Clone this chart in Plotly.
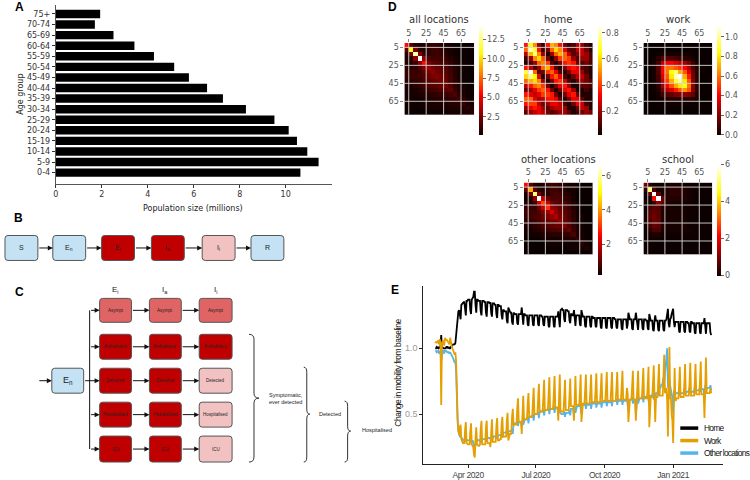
import plotly.graph_objects as go
import pandas as pd

W, H = 750, 480
def px(x): return x / W
def py(y): return 1 - y / H

# ---------------- Panel A data ----------------
AGE_GROUPS = ['0-4', '5-9', '10-14', '15-19', '20-24', '25-29', '30-34', '35-39',
              '40-44', '45-49', '50-54', '55-59', '60-64', '65-69', '70-74', '75+']
POP_MILLIONS = [10.64, 11.43, 10.94, 10.49, 10.13, 9.51, 8.27, 7.27,
                6.58, 5.79, 5.15, 4.27, 3.42, 2.51, 1.70, 1.93]
POP_TICKS = [0, 2, 4, 6, 8, 10]

# ---------------- Panel D data (contact matrices) ----------------
AGE_LOWER = [0, 5, 10, 15, 20, 25, 30, 35, 40, 45, 50, 55, 60, 65, 70, 75]
MATRIX_TICKS = [5, 25, 45, 65]

ALL_LOC = [
 [5.5, 2.0, 0.9, 0.6, 0.7, 1.0, 1.2, 1.1, 0.8, 0.5, 0.4, 0.3, 0.2, 0.2, 0.1, 0.1],
 [2.0, 11.0, 2.4, 0.8, 0.6, 0.9, 1.2, 1.2, 1.0, 0.6, 0.4, 0.3, 0.2, 0.2, 0.1, 0.1],
 [0.8, 2.5, 13.2, 2.8, 1.0, 0.9, 1.1, 1.3, 1.1, 0.8, 0.5, 0.3, 0.2, 0.2, 0.1, 0.1],
 [0.5, 0.9, 3.0, 14.4, 3.0, 1.5, 1.3, 1.3, 1.3, 1.0, 0.7, 0.4, 0.3, 0.2, 0.1, 0.1],
 [0.5, 0.6, 1.2, 3.0, 5.5, 2.6, 1.9, 1.7, 1.6, 1.4, 1.0, 0.6, 0.4, 0.3, 0.2, 0.1],
 [0.9, 0.8, 1.0, 1.6, 2.6, 3.2, 2.4, 2.1, 1.9, 1.6, 1.2, 0.7, 0.4, 0.3, 0.2, 0.1],
 [1.1, 1.1, 1.1, 1.3, 1.9, 2.4, 2.9, 2.4, 2.1, 1.8, 1.3, 0.8, 0.5, 0.3, 0.2, 0.1],
 [1.0, 1.2, 1.2, 1.2, 1.6, 2.1, 2.4, 2.7, 2.3, 1.9, 1.4, 0.8, 0.5, 0.3, 0.2, 0.1],
 [0.7, 0.9, 1.1, 1.2, 1.5, 1.8, 2.1, 2.3, 2.5, 2.1, 1.5, 0.9, 0.5, 0.3, 0.2, 0.1],
 [0.5, 0.6, 0.8, 1.0, 1.3, 1.6, 1.8, 1.9, 2.1, 2.3, 1.7, 1.0, 0.6, 0.4, 0.2, 0.1],
 [0.4, 0.4, 0.5, 0.7, 1.0, 1.2, 1.4, 1.5, 1.6, 1.8, 2.0, 1.2, 0.7, 0.4, 0.3, 0.2],
 [0.4, 0.4, 0.4, 0.5, 0.7, 0.8, 0.9, 1.0, 1.1, 1.2, 1.3, 1.6, 0.9, 0.5, 0.3, 0.2],
 [0.4, 0.4, 0.3, 0.4, 0.5, 0.6, 0.7, 0.7, 0.8, 0.9, 1.0, 1.0, 1.3, 0.7, 0.4, 0.3],
 [0.3, 0.3, 0.3, 0.3, 0.4, 0.5, 0.5, 0.5, 0.6, 0.6, 0.7, 0.7, 0.8, 1.1, 0.6, 0.4],
 [0.3, 0.3, 0.2, 0.2, 0.3, 0.4, 0.4, 0.4, 0.4, 0.5, 0.5, 0.5, 0.6, 0.6, 0.9, 0.5],
 [0.2, 0.2, 0.2, 0.2, 0.2, 0.3, 0.3, 0.3, 0.3, 0.3, 0.4, 0.4, 0.4, 0.5, 0.5, 0.8]]

HOME_LOC = [
 [0.35, 0.65, 0.50, 0.20, 0.08, 0.35, 0.55, 0.50, 0.35, 0.15, 0.08, 0.12, 0.25, 0.20, 0.10, 0.05],
 [0.45, 0.80, 0.70, 0.35, 0.08, 0.15, 0.45, 0.60, 0.50, 0.30, 0.12, 0.12, 0.25, 0.25, 0.15, 0.05],
 [0.25, 0.55, 0.75, 0.50, 0.20, 0.05, 0.20, 0.45, 0.55, 0.45, 0.25, 0.12, 0.18, 0.25, 0.20, 0.10],
 [0.10, 0.20, 0.50, 0.60, 0.45, 0.15, 0.05, 0.20, 0.40, 0.45, 0.40, 0.20, 0.12, 0.20, 0.20, 0.10],
 [0.05, 0.10, 0.20, 0.45, 0.50, 0.40, 0.12, 0.05, 0.15, 0.35, 0.40, 0.35, 0.15, 0.12, 0.15, 0.10],
 [0.35, 0.25, 0.10, 0.20, 0.45, 0.55, 0.35, 0.12, 0.05, 0.15, 0.30, 0.35, 0.30, 0.12, 0.10, 0.05],
 [0.70, 0.86, 0.45, 0.10, 0.15, 0.40, 0.45, 0.30, 0.10, 0.05, 0.15, 0.30, 0.30, 0.20, 0.10, 0.05],
 [0.60, 0.75, 0.65, 0.30, 0.05, 0.15, 0.35, 0.45, 0.30, 0.10, 0.05, 0.15, 0.25, 0.25, 0.15, 0.05],
 [0.45, 0.55, 0.60, 0.50, 0.20, 0.05, 0.15, 0.35, 0.40, 0.25, 0.10, 0.05, 0.15, 0.20, 0.15, 0.10],
 [0.25, 0.35, 0.45, 0.50, 0.40, 0.15, 0.05, 0.15, 0.30, 0.35, 0.20, 0.05, 0.05, 0.12, 0.12, 0.10],
 [0.15, 0.20, 0.30, 0.40, 0.45, 0.35, 0.15, 0.05, 0.15, 0.30, 0.35, 0.20, 0.05, 0.05, 0.10, 0.05],
 [0.35, 0.30, 0.25, 0.30, 0.40, 0.40, 0.35, 0.15, 0.05, 0.15, 0.30, 0.35, 0.15, 0.05, 0.05, 0.05],
 [0.45, 0.45, 0.30, 0.20, 0.25, 0.35, 0.35, 0.30, 0.12, 0.05, 0.15, 0.30, 0.30, 0.12, 0.05, 0.05],
 [0.35, 0.40, 0.40, 0.25, 0.15, 0.20, 0.30, 0.30, 0.25, 0.10, 0.05, 0.15, 0.30, 0.25, 0.10, 0.05],
 [0.20, 0.30, 0.35, 0.30, 0.20, 0.12, 0.20, 0.25, 0.25, 0.20, 0.05, 0.05, 0.15, 0.25, 0.20, 0.05],
 [0.12, 0.20, 0.25, 0.30, 0.25, 0.15, 0.12, 0.15, 0.20, 0.20, 0.12, 0.05, 0.10, 0.15, 0.20, 0.15]]

WORK_LOC = [
 [0, 0, 0, 0, 0, 0, 0, 0, 0, 0, 0, 0, 0, 0, 0, 0],
 [0, 0, 0, 0, 0, 0, 0, 0, 0, 0, 0, 0, 0, 0, 0, 0],
 [0, 0, 0, 0.01, 0.02, 0.02, 0.02, 0.02, 0.02, 0.01, 0.01, 0, 0, 0, 0, 0],
 [0, 0, 0.01, 0.05, 0.10, 0.12, 0.12, 0.10, 0.08, 0.06, 0.04, 0.02, 0.01, 0, 0, 0],
 [0, 0, 0.02, 0.10, 0.30, 0.40, 0.40, 0.35, 0.30, 0.25, 0.18, 0.08, 0.02, 0, 0, 0],
 [0, 0, 0.02, 0.12, 0.40, 0.60, 0.60, 0.55, 0.50, 0.40, 0.28, 0.12, 0.04, 0, 0, 0],
 [0, 0, 0.02, 0.12, 0.40, 0.60, 0.85, 0.95, 0.70, 0.55, 0.35, 0.15, 0.05, 0, 0, 0],
 [0, 0, 0.02, 0.10, 0.35, 0.55, 0.80, 1.05, 1.12, 0.70, 0.45, 0.18, 0.05, 0, 0, 0],
 [0, 0, 0.02, 0.08, 0.30, 0.50, 0.70, 0.90, 1.00, 0.80, 0.55, 0.20, 0.05, 0, 0, 0],
 [0, 0, 0.01, 0.06, 0.25, 0.40, 0.55, 0.70, 0.80, 0.85, 0.60, 0.22, 0.05, 0, 0, 0],
 [0, 0, 0.01, 0.04, 0.18, 0.28, 0.35, 0.45, 0.55, 0.65, 0.55, 0.20, 0.05, 0, 0, 0],
 [0, 0, 0, 0.02, 0.08, 0.12, 0.15, 0.18, 0.20, 0.22, 0.20, 0.15, 0.04, 0, 0, 0],
 [0, 0, 0, 0.01, 0.02, 0.04, 0.05, 0.05, 0.05, 0.05, 0.05, 0.04, 0.02, 0, 0, 0],
 [0, 0, 0, 0, 0, 0.01, 0.01, 0.01, 0.01, 0.01, 0.01, 0.01, 0, 0, 0, 0],
 [0, 0, 0, 0, 0, 0, 0, 0, 0, 0, 0, 0, 0, 0, 0, 0],
 [0, 0, 0, 0, 0, 0, 0, 0, 0, 0, 0, 0, 0, 0, 0, 0]]

OTHER_LOC = [
 [2.6, 1.0, 0.4, 0.3, 0.4, 0.6, 0.7, 0.6, 0.5, 0.4, 0.3, 0.3, 0.2, 0.2, 0.2, 0.2],
 [1.0, 4.2, 1.0, 0.5, 0.4, 0.5, 0.7, 0.7, 0.6, 0.4, 0.3, 0.3, 0.2, 0.2, 0.2, 0.2],
 [0.4, 1.2, 5.8, 1.3, 0.6, 0.5, 0.7, 0.8, 0.7, 0.5, 0.4, 0.3, 0.2, 0.2, 0.2, 0.2],
 [0.3, 0.5, 1.5, 6.66, 2.0, 1.0, 0.8, 0.8, 0.8, 0.6, 0.5, 0.3, 0.2, 0.2, 0.2, 0.2],
 [0.4, 0.4, 0.7, 2.2, 3.2, 2.0, 1.2, 1.0, 0.9, 0.8, 0.6, 0.4, 0.3, 0.2, 0.2, 0.2],
 [0.6, 0.6, 0.6, 1.1, 2.0, 3.0, 1.6, 1.3, 1.1, 0.9, 0.7, 0.4, 0.3, 0.2, 0.2, 0.2],
 [0.7, 0.7, 0.7, 0.9, 1.3, 1.6, 2.2, 1.5, 1.2, 1.0, 0.8, 0.5, 0.3, 0.2, 0.2, 0.2],
 [0.6, 0.7, 0.8, 0.8, 1.1, 1.3, 1.5, 1.8, 1.3, 1.1, 0.8, 0.5, 0.3, 0.3, 0.2, 0.2],
 [0.5, 0.6, 0.7, 0.8, 1.0, 1.1, 1.2, 1.3, 1.5, 1.1, 0.9, 0.5, 0.3, 0.3, 0.2, 0.2],
 [0.4, 0.4, 0.5, 0.6, 0.8, 0.9, 1.0, 1.1, 1.1, 1.3, 0.9, 0.6, 0.4, 0.3, 0.2, 0.2],
 [0.3, 0.3, 0.4, 0.5, 0.6, 0.7, 0.8, 0.8, 0.9, 0.9, 1.1, 0.6, 0.4, 0.3, 0.2, 0.2],
 [0.3, 0.3, 0.3, 0.3, 0.4, 0.4, 0.5, 0.5, 0.5, 0.6, 0.6, 0.8, 0.4, 0.3, 0.2, 0.2],
 [0.2, 0.2, 0.2, 0.2, 0.3, 0.3, 0.3, 0.3, 0.3, 0.4, 0.4, 0.4, 0.6, 0.3, 0.2, 0.2],
 [0.2, 0.2, 0.2, 0.2, 0.2, 0.3, 0.3, 0.3, 0.3, 0.3, 0.3, 0.3, 0.3, 0.5, 0.3, 0.2],
 [0.2, 0.2, 0.2, 0.2, 0.2, 0.2, 0.2, 0.2, 0.2, 0.2, 0.3, 0.3, 0.3, 0.3, 0.4, 0.2],
 [0.2, 0.2, 0.2, 0.2, 0.2, 0.2, 0.2, 0.2, 0.2, 0.2, 0.2, 0.2, 0.2, 0.2, 0.2, 0.3]]

SCHOOL_LOC = [
 [1.0, 0.3, 0.05, 0.05, 0.05, 0.05, 0.1, 0.1, 0.1, 0.05, 0.05, 0.05, 0.02, 0.02, 0.02, 0.02],
 [0.3, 5.2, 0.6, 0.1, 0.1, 0.2, 0.3, 0.3, 0.3, 0.2, 0.1, 0.05, 0.02, 0.02, 0.02, 0.02],
 [0.05, 0.8, 6.0, 0.8, 0.1, 0.2, 0.3, 0.3, 0.3, 0.2, 0.1, 0.05, 0.02, 0.02, 0.02, 0.02],
 [0.05, 0.1, 2.3, 6.0, 0.8, 0.2, 0.2, 0.2, 0.2, 0.2, 0.1, 0.05, 0.02, 0.02, 0.02, 0.02],
 [0.05, 0.1, 0.3, 1.2, 0.8, 0.2, 0.1, 0.1, 0.1, 0.1, 0.05, 0.05, 0.02, 0.02, 0.02, 0.02],
 [0.05, 0.5, 0.7, 0.6, 0.2, 0.15, 0.1, 0.1, 0.1, 0.1, 0.05, 0.05, 0.02, 0.02, 0.02, 0.02],
 [0.1, 0.7, 0.8, 0.7, 0.2, 0.1, 0.15, 0.1, 0.1, 0.1, 0.05, 0.05, 0.02, 0.02, 0.02, 0.02],
 [0.1, 0.7, 0.9, 0.7, 0.2, 0.1, 0.1, 0.15, 0.1, 0.1, 0.05, 0.05, 0.02, 0.02, 0.02, 0.02],
 [0.1, 0.6, 0.9, 0.8, 0.2, 0.1, 0.1, 0.1, 0.15, 0.1, 0.05, 0.05, 0.02, 0.02, 0.02, 0.02],
 [0.05, 0.5, 0.8, 0.7, 0.2, 0.1, 0.1, 0.1, 0.1, 0.15, 0.05, 0.05, 0.02, 0.02, 0.02, 0.02],
 [0.05, 0.3, 0.6, 0.6, 0.15, 0.1, 0.1, 0.1, 0.1, 0.1, 0.1, 0.05, 0.02, 0.02, 0.02, 0.02],
 [0.02, 0.1, 0.2, 0.2, 0.05, 0.05, 0.05, 0.05, 0.05, 0.05, 0.05, 0.05, 0.02, 0.02, 0.02, 0.02],
 [0.02, 0.05, 0.05, 0.05, 0.02, 0.02, 0.02, 0.02, 0.02, 0.02, 0.02, 0.02, 0.02, 0.02, 0.02, 0.02],
 [0.02, 0.02, 0.02, 0.02, 0.02, 0.02, 0.02, 0.02, 0.02, 0.02, 0.02, 0.02, 0.02, 0.02, 0.02, 0.02],
 [0.02, 0.02, 0.02, 0.02, 0.02, 0.02, 0.02, 0.02, 0.02, 0.02, 0.02, 0.02, 0.02, 0.02, 0.02, 0.02],
 [0.02, 0.02, 0.02, 0.02, 0.02, 0.02, 0.02, 0.02, 0.02, 0.02, 0.02, 0.02, 0.02, 0.02, 0.02, 0.02]]

# ---------------- Panel E data (daily, % of baseline, weeks Mon..Sun from 2020-02-17) ----------------
MOBILITY_START = '2020-02-17'
HOME_PCT = [
 100,100,101,100,100,101,100, 101,110,101,100,100,100,100, 100,101,101,100,101,100,100,
 101,102,102,103,103,103,104, 110,120,125,128,129,125,122, 133,134,134,135,135,128,125,
 136,136,137,137,137,129,126, 137,138,139,143,143,133,127, 137,137,136,136,136,128,125,
 136,136,136,135,135,127,124, 135,135,135,134,135,127,124, 134,134,134,133,133,126,123,
 133,133,132,132,132,125,122, 129,129,128,128,128,121,119, 131,128,128,127,127,120,118,
 127,126,126,126,126,119,118, 126,126,126,126,131,119,118, 126,126,125,125,125,118,117,
 125,125,125,125,125,118,117, 125,125,125,125,125,118,117, 125,125,125,124,124,118,117,
 124,124,124,124,124,117,116, 124,124,124,124,124,117,116, 124,124,124,124,128,118,116,
 129,130,130,129,129,122,120, 129,129,129,128,128,121,119, 126,126,125,125,129,119,117,
 125,125,125,125,125,118,117, 129,125,124,124,124,117,116, 124,124,124,124,124,117,116,
 124,124,123,123,123,117,116, 123,123,123,123,123,116,115, 123,123,123,123,123,116,115,
 123,123,123,123,123,116,115, 123,123,123,122,122,116,115, 122,122,122,122,122,115,114,
 122,122,122,122,122,115,118, 127,122,122,122,122,115,114, 122,122,122,127,122,115,114,
 122,122,122,122,122,115,114, 122,122,122,121,121,115,114, 126,121,121,121,121,114,113,
 121,125,121,121,121,114,113, 121,121,121,121,121,114,113, 121,121,122,127,130,119,116,
 122,123,126,128,130,120,116, 120,120,120,120,120,113,112, 120,120,120,120,120,113,112,
 120,120,120,119,119,113,112, 120,120,119,119,119,112,111, 119,119,119,119,119,112,111,
 119,119,119,119,123,112,111, 119,119,119,119,119,112,110]
WORK_PCT = [
 104,105,104,105,106,103,107, 104,57,103,106,105,102,108, 106,107,106,105,104,103,108,
 103,102,100,99,97,95,97, 90,62,47,38,34,40,42, 31,29,28,28,28,38,44,
 28,27,27,27,27,37,43, 27,26,25,19,17,32,40, 27,26,26,26,27,39,45,
 27,27,27,27,27,40,45, 28,28,28,28,25,40,46, 29,29,29,29,29,41,47,
 30,30,30,31,31,42,48, 33,33,33,33,33,45,51, 30,35,35,35,35,48,54,
 42,42,42,42,42,55,62, 44,44,44,44,35,56,64, 46,46,46,46,46,58,66,
 48,48,48,48,48,60,70, 50,50,50,50,50,62,73, 52,52,52,52,52,64,76,
 53,53,53,53,53,65,78, 54,54,54,54,54,66,79, 55,55,55,55,45,66,80,
 52,52,52,52,52,63,76, 53,53,53,53,53,64,77, 56,56,56,56,45,66,79,
 57,57,57,57,57,67,80, 44,58,58,58,58,68,80, 58,58,58,58,58,68,80,
 59,59,59,59,59,69,81, 59,59,59,59,59,69,81, 60,60,60,60,60,70,82,
 60,60,60,60,60,70,82, 60,60,60,60,60,70,82, 61,61,61,61,61,71,83,
 61,61,61,61,61,70,66, 44,61,61,61,61,71,83, 61,61,61,45,61,71,83,
 62,62,62,62,62,72,85, 62,62,62,62,62,73,86, 40,63,63,63,63,74,87,
 63,44,63,63,63,75,88, 64,64,64,64,64,78,95, 66,67,70,60,33,80,101,
 62,62,50,45,28,70,85, 60,62,62,62,62,72,86, 63,63,63,63,63,73,88,
 64,64,64,64,64,74,89, 64,64,64,64,64,74,88, 65,65,65,65,65,75,90,
 65,65,65,65,47,76,93, 66,66,66,66,66,70,66]
OTHER_PCT = [
 98,98,97,98,98,96,97, 98,90,97,98,98,96,98, 98,98,97,97,97,96,97,
 96,95,94,93,91,89,90, 82,58,44,37,34,33,33, 32,31,30,30,30,31,29,
 31,30,30,30,30,30,28, 30,30,29,24,22,27,27, 31,30,30,30,30,31,28,
 31,31,31,31,31,32,29, 32,32,32,32,31,32,30, 33,33,33,33,33,34,31,
 34,34,34,34,34,35,32, 36,36,36,36,36,37,34, 37,37,37,37,37,39,35,
 43,43,43,43,43,45,41, 44,44,44,44,40,46,42, 46,46,46,46,46,48,43,
 48,48,48,48,48,50,45, 50,50,50,50,50,52,47, 52,52,52,52,52,54,49,
 53,53,53,53,53,55,50, 54,54,54,54,54,56,51, 55,55,55,55,50,56,52,
 50,50,50,50,50,52,48, 51,51,51,51,51,53,49, 54,54,54,54,48,56,51,
 56,56,56,56,56,58,53, 50,57,57,57,57,59,54, 57,57,57,57,57,59,54,
 58,58,58,58,58,60,55, 58,58,58,58,58,60,55, 59,59,59,59,59,61,56,
 59,59,59,59,59,61,56, 60,60,60,60,60,62,57, 60,60,60,60,60,62,57,
 60,60,60,60,60,62,55, 52,61,61,61,61,63,58, 61,61,61,50,61,63,58,
 62,62,62,62,62,64,59, 63,63,63,63,63,65,60, 56,64,64,64,64,66,61,
 66,58,66,66,66,69,64, 70,70,72,72,74,78,74, 82,85,92,100,70,80,75,
 72,70,66,62,50,68,65, 65,66,66,66,66,68,64, 66,66,66,66,66,69,65,
 67,67,67,67,67,70,66, 67,67,67,67,67,70,66, 68,68,68,68,68,71,67,
 69,69,69,69,60,72,68, 70,70,70,70,70,72,68]
DATE_TICKS = ['2020-04-01', '2020-07-01', '2020-10-01', '2021-01-01']
DATE_TICK_TEXT = ['Apr 2020', 'Jul 2020', 'Oct 2020', 'Jan 2021']
SERIES_NAMES = ['Home', 'Work', 'Other locations']
SERIES_COLORS = ['black', '#E69F00', '#56B4E9']

# ---------------- colours / fonts ----------------
HOT = [[0.0, 'rgb(11,0,0)'], [0.365, 'rgb(255,0,0)'], [0.746, 'rgb(255,255,0)'], [1.0, 'rgb(255,255,255)']]
LBLUE, DRED, MRED, PINK = '#c4e2f4', '#c00000', '#e06464', '#f2c2c2'
SANS = 'DejaVu Sans'
ARIAL = 'Liberation Sans, Arial, sans-serif'

def narrow(s, ls=-0.5):
    # condensed look: Arial-like font with tightened letter spacing
    return f'<span style="letter-spacing:{ls}px">{s}</span>'

fig = go.Figure()
shapes, annotations = [], []

# ---------------- Panel A ----------------
fig.add_trace(go.Bar(x=POP_MILLIONS, y=AGE_GROUPS, orientation='h', marker=dict(color='black', line=dict(width=0)),
                     width=0.8, xaxis='x', yaxis='y', showlegend=False, hoverinfo='skip'))

# ---------------- Panel E ----------------
dates = pd.date_range(MOBILITY_START, periods=len(HOME_PCT), freq='D')
series = {'Home': HOME_PCT, 'Work': WORK_PCT, 'Other locations': OTHER_PCT}
for name in ['Home', 'Other locations', 'Work']:
    fig.add_trace(go.Scatter(x=dates, y=[v / 100 for v in series[name]], mode='lines', name=name,
                             line=dict(color=SERIES_COLORS[SERIES_NAMES.index(name)], width=1.8),
                             xaxis='x2', yaxis='y2', showlegend=False, hoverinfo='skip'))

# ---------------- Panel D heatmaps ----------------
mids = [a + 2.5 for a in AGE_LOWER]
heat_specs = [
    ('all locations', ALL_LOC, 0.17, 14.4, (403, 473, 43, 115), 478, 25, 135,
     [2.5, 5, 7.5, 10, 12.5], ['2.5', '5.0', '7.5', '10.0', '12.5']),
    ('home', HOME_LOC, 0.02, 0.86, (523, 592, 43, 115), 597, 25, 135,
     [0.2, 0.4, 0.6, 0.8], ['0.2', '0.4', '0.6', '0.8']),
    ('work', WORK_LOC, 0.0, 1.12, (643, 712, 43, 115), 717, 25, 135,
     [0, 0.2, 0.4, 0.6, 0.8, 1.0], ['0.0', '0.2', '0.4', '0.6', '0.8', '1.0']),
    ('other locations', OTHER_LOC, 0.2, 6.66, (523, 592, 183, 255), 597, 165, 275,
     [2, 4, 6], ['2', '4', '6']),
    ('school', SCHOOL_LOC, 0.0, 6.0, (643, 712, 183, 255), 717, 165, 276,
     [0, 2, 4, 6], ['0', '2', '4', '6']),
]
layout_axes = {}
for k, (title, M, zmin, zmax, box, cbx, cby0, cby1, cbt, cbtt) in enumerate(heat_specs):
    n = k + 3
    xa, ya = f'x{n}', f'y{n}'
    x0, x1, y0, y1 = box
    fig.add_trace(go.Heatmap(
        z=M, x=mids, y=mids, colorscale=HOT, zmin=zmin, zmax=zmax, xaxis=xa, yaxis=ya, hoverinfo='skip',
        colorbar=dict(x=px(cbx), xanchor='left', xref='paper', y=py(cby0), yanchor='top', yref='paper',
                      len=cby1 - cby0, lenmode='pixels', thickness=4, thicknessmode='pixels',
                      outlinewidth=0, xpad=0, ypad=0, ticks='outside', ticklen=3, tickcolor='#666',
                      tickvals=cbt, ticktext=cbtt,
                      tickfont=dict(family=SANS, size=8, color='#555'))))
    layout_axes[f'xaxis{n}'] = dict(domain=[px(x0), px(x1)], anchor=ya, range=[0, 80], side='top',
                                    tickvals=MATRIX_TICKS, ticks='outside', ticklen=3, tickcolor='#888',
                                    tickfont=dict(family=SANS, size=8, color='#555'),
                                    showgrid=False, zeroline=False, showline=False, fixedrange=True)
    layout_axes[f'yaxis{n}'] = dict(domain=[py(y1), py(y0)], anchor=xa, range=[80, 0],
                                    tickvals=MATRIX_TICKS, ticks='outside', ticklen=3, tickcolor='#888',
                                    tickfont=dict(family=SANS, size=8, color='#555'),
                                    showgrid=False, zeroline=False, showline=False, fixedrange=True)
    for t in MATRIX_TICKS:
        shapes.append(dict(type='line', xref=xa, yref=ya, x0=t, x1=t, y0=0, y1=80,
                           line=dict(color='rgba(215,215,215,0.9)', width=1), layer='above'))
        shapes.append(dict(type='line', xref=xa, yref=ya, x0=0, x1=80, y0=t, y1=t,
                           line=dict(color='rgba(215,215,215,0.9)', width=1), layer='above'))
    annotations.append(dict(x=px((x0 + x1) / 2), y=py(y0 - 23), xref='paper', yref='paper', text=title,
                            showarrow=False, font=dict(family=SANS, size=10, color='#333'),
                            xanchor='center', yanchor='middle'))

# ---------------- helpers for diagrams ----------------
def txt(x, y, s, size, color='#222', family=ARIAL, xanchor='center', angle=0):
    annotations.append(dict(x=px(x), y=py(y), xref='paper', yref='paper', text=s, showarrow=False,
                            font=dict(size=size, color=color, family=family), xanchor=xanchor,
                            yanchor='middle', textangle=angle))

def rbox(x0, y0, x1, y1, fill, r=3):
    X0, X1, Y0, Y1 = px(x0), px(x1), py(y0), py(y1)
    rx, ry = r / W, r / H
    path = (f"M {X0+rx},{Y0} L {X1-rx},{Y0} Q {X1},{Y0} {X1},{Y0-ry} L {X1},{Y1+ry} "
            f"Q {X1},{Y1} {X1-rx},{Y1} L {X0+rx},{Y1} Q {X0},{Y1} {X0},{Y1+ry} "
            f"L {X0},{Y0-ry} Q {X0},{Y0} {X0+rx},{Y0} Z")
    shapes.append(dict(type='path', path=path, xref='paper', yref='paper', fillcolor=fill,
                       line=dict(color='#555', width=1), layer='above'))

def arrow(x0, y0, x1, y1):
    annotations.append(dict(x=px(x1), y=py(y1), xref='paper', yref='paper', ax=x0 - x1, ay=y0 - y1,
                            showarrow=True, arrowhead=2, arrowsize=1, arrowwidth=1, arrowcolor='#111',
                            text='', standoff=0))

def line(x0, y0, x1, y1, color='#111', width=1):
    shapes.append(dict(type='line', xref='paper', yref='paper', x0=px(x0), y0=py(y0), x1=px(x1), y1=py(y1),
                       line=dict(color=color, width=width), layer='above'))

def brace(x0, x1, y0, y1, ym, c=5):
    xm = (x0 + x1) / 2
    pts = lambda x, y: f"{px(x)},{py(y)}"
    path = (f"M {pts(x0, y0)} Q {pts(xm, y0)} {pts(xm, y0 + c)} L {pts(xm, ym - c)} "
            f"Q {pts(xm, ym)} {pts(x1, ym)} Q {pts(xm, ym)} {pts(xm, ym + c)} "
            f"L {pts(xm, y1 - c)} Q {pts(xm, y1)} {pts(x0, y1)}")
    shapes.append(dict(type='path', path=path, xref='paper', yref='paper',
                       line=dict(color='#333', width=1), layer='above'))

# ---------------- Panel B ----------------
b_nodes = [('S', LBLUE), ('E<sub>n</sub>', LBLUE), ('E<sub>i</sub>', DRED), ('I<sub>a</sub>', DRED),
           ('I<sub>i</sub>', PINK), ('R', LBLUE)]
b_x = [2, 50, 99, 149, 200, 249]
bw, by0, by1 = 33, 236, 261
for i, (lab, col) in enumerate(b_nodes):
    rbox(b_x[i], by0, b_x[i] + bw, by1, col)
    txt(b_x[i] + bw / 2, (by0 + by1) / 2, lab, 7, '#222')
    if i < len(b_nodes) - 1:
        arrow(b_x[i] + bw, (by0 + by1) / 2, b_x[i + 1], (by0 + by1) / 2)

# ---------------- Panel C ----------------
c_cols = [(97, 129), (147, 179), (197, 230)]
c_heads = ['E<sub>i</sub>', 'I<sub>a</sub>', 'I<sub>i</sub>']
c_rows = [(299, 323), (335, 360), (369, 394), (403, 428), (437, 463)]
c_labels = ['Asympt', 'Ambulatory', 'Detected', 'Hospitalised', 'ICU']
c_colors = [[MRED, MRED, MRED], [DRED, DRED, DRED], [DRED, DRED, PINK], [DRED, DRED, PINK], [DRED, DRED, PINK]]
for j, (cx0, cx1) in enumerate(c_cols):
    txt((cx0 + cx1) / 2, 291, c_heads[j], 8, '#222')
for i, (ry0, ry1) in enumerate(c_rows):
    yc = (ry0 + ry1) / 2
    for j, (cx0, cx1) in enumerate(c_cols):
        rbox(cx0, ry0, cx1, ry1, c_colors[i][j])
        txt((cx0 + cx1) / 2, yc, c_labels[i], 4.5, '#222')
        if j < 2:
            arrow(cx1, yc, c_cols[j + 1][0], yc)
    if i != 2:
        arrow(87, yc, 97, yc)
rbox(49, 369, 81, 394, LBLUE)
txt(65, 381.5, 'E<sub>n</sub>', 9, '#222')
arrow(35, 381.5, 49, 381.5)
arrow(81, 381.5, 97, 381.5)
line(87, 311, 87, 450)
brace(247, 257, 335, 463, 399)
brace(302, 308, 368, 463, 415)
brace(343, 349, 402, 463, 432)
txt(265, 396, 'Symptomatic,', 5.5, '#222', xanchor='left')
txt(265, 403, 'ever detected', 5.5, '#222', xanchor='left')
txt(315, 415, 'Detected', 5.5, '#222', xanchor='left')
txt(358, 431, 'Hospitalised', 5.5, '#222', xanchor='left')

# ---------------- Panel E legend (drawn as keys + labels) ----------------
for i, name in enumerate(SERIES_NAMES):
    yk = 429 + i * 12.5
    line(680, yk, 698, yk, SERIES_COLORS[i], 3.5)
    txt(702, yk, narrow(name, -0.75), 8.4, '#111', ARIAL, xanchor='left')

# ---------------- Panel letters and axis titles ----------------
for lab, x, y in [('A', 17, 7), ('B', 16, 218), ('C', 17, 293), ('D', 391, 7), ('E', 394, 291)]:
    txt(x, y, f'<b>{lab}</b>', 12, 'black', ARIAL)
txt(18, 94, 'Age group', 8, '#222', SANS, angle=-90)
txt(191, 209, 'Population size (millions)', 8, '#222', SANS)
txt(397, 373, narrow('Change in mobility from baseline', -0.5), 8.5, '#111', ARIAL, angle=-90)

fig.update_layout(
    width=W, height=H, margin=dict(l=0, r=0, t=0, b=0), autosize=False,
    paper_bgcolor='white', plot_bgcolor='white',
    xaxis=dict(domain=[px(53), px(330)], anchor='y', range=[0, 12], tickvals=POP_TICKS,
               ticks='outside', ticklen=3, tickcolor='#333', showline=True, linecolor='#555', linewidth=1,
               showgrid=False, zeroline=False, tickfont=dict(family=SANS, size=8, color='#333')),
    yaxis=dict(domain=[py(184), py(5)], anchor='x', type='category', categoryorder='array',
               categoryarray=AGE_GROUPS, range=[-1.04, 15.85], ticks='outside', ticklen=3, tickcolor='#333',
               showline=True, linecolor='#555', linewidth=1, showgrid=False, zeroline=False,
               tickfont=dict(family=SANS, size=8, color='#333')),
    xaxis2=dict(domain=[px(422), px(723)], anchor='y2', range=['2020-02-01', '2021-03-09'],
                tickvals=DATE_TICKS, ticktext=[narrow(t, -0.4) for t in DATE_TICK_TEXT], ticks='outside',
                ticklen=3, tickcolor='#222', showline=True, linecolor='#222', linewidth=1, showgrid=False,
                zeroline=False, tickfont=dict(family=ARIAL, size=8.5, color='#444')),
    yaxis2=dict(domain=[py(465), py(287)], anchor='x2', range=[0.121, 1.47], tickvals=[0.5, 1.0],
                ticktext=['0.5', '1.0'], ticks='outside', ticklen=3, tickcolor='#222', showline=True,
                linecolor='#222', linewidth=1, showgrid=False, zeroline=False,
                tickfont=dict(family=ARIAL, size=9, color='#999')),
    shapes=shapes, annotations=annotations, showlegend=False,
)
fig.update_layout(**layout_axes)
fig.write_html('out.html', config={'displayModeBar': False},
               post_script="document.body.style.margin='0px';")
